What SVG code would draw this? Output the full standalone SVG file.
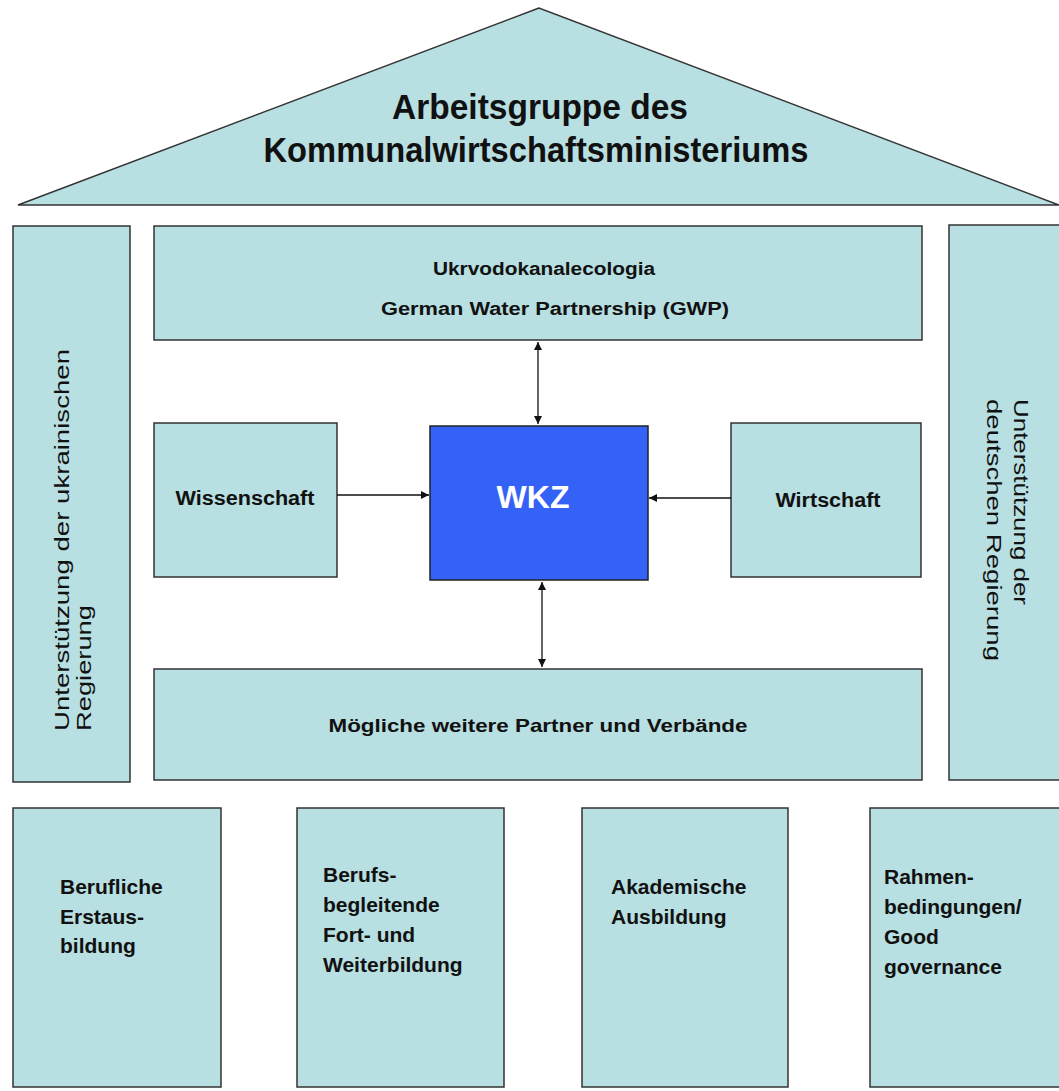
<svg xmlns="http://www.w3.org/2000/svg" width="1059" height="1091" viewBox="0 0 1059 1091">
<style>
.box{fill:#b8dfe1;stroke:#333;stroke-width:1.5}
.t{font-family:"Liberation Sans",Arial,sans-serif;font-weight:bold;fill:#111}
.r{font-family:"Liberation Sans",Arial,sans-serif;fill:#111;font-size:21px}
.c{stroke:#111;stroke-width:1.3;fill:none}
</style>
<defs>
<marker id="ah" viewBox="0 0 10 10" refX="10" refY="5" markerWidth="8" markerHeight="8" orient="auto-start-reverse" markerUnits="userSpaceOnUse">
<path d="M0,0 L10,5 L0,10 z" fill="#111"/>
</marker>
</defs>
<rect width="1059" height="1091" fill="#fff"/>
<g id="roof">
<polygon class="box" points="539,8 18,205 1059,205"/>
<text class="t" font-size="35" text-anchor="middle" x="540" y="119" textLength="296" lengthAdjust="spacingAndGlyphs">Arbeitsgruppe des</text>
<text class="t" font-size="35" text-anchor="middle" x="536" y="162" textLength="545" lengthAdjust="spacingAndGlyphs">Kommunalwirtschaftsministeriums</text>
</g>
<g id="pillar-left">
<rect class="box" x="13" y="226" width="117" height="556"/>
<text class="r" transform="translate(69,731) rotate(-90)" textLength="382" lengthAdjust="spacingAndGlyphs">Unterstützung der ukrainischen</text>
<text class="r" transform="translate(91,731) rotate(-90)" textLength="126" lengthAdjust="spacingAndGlyphs">Regierung</text>
</g>
<g id="pillar-right">
<rect class="box" x="949" y="225" width="114" height="555"/>
<text class="r" transform="translate(1014,399) rotate(90)" textLength="206" lengthAdjust="spacingAndGlyphs">Unterstützung der</text>
<text class="r" transform="translate(987,399) rotate(90)" textLength="262" lengthAdjust="spacingAndGlyphs">deutschen Regierung</text>
</g>
<g id="partners-top">
<rect class="box" x="154" y="226" width="768" height="114"/>
<text class="t" font-size="18" text-anchor="middle" x="544" y="275" textLength="222" lengthAdjust="spacingAndGlyphs">Ukrvodokanalecologia</text>
<text class="t" font-size="18" text-anchor="middle" x="555" y="315" textLength="348" lengthAdjust="spacingAndGlyphs">German Water Partnership (GWP)</text>
</g>
<g id="wissenschaft">
<rect class="box" x="154" y="423" width="183" height="154"/>
<text class="t" font-size="20" text-anchor="middle" x="245" y="505" textLength="139" lengthAdjust="spacingAndGlyphs">Wissenschaft</text>
</g>
<g id="wkz">
<rect x="430" y="426" width="218" height="154" fill="#3462f7" stroke="#222" stroke-width="1.5"/>
<text font-family="Liberation Sans,Arial,sans-serif" font-weight="bold" font-size="32" fill="#fff" text-anchor="middle" x="533" y="508">WKZ</text>
</g>
<g id="wirtschaft">
<rect class="box" x="731" y="423" width="190" height="154"/>
<text class="t" font-size="20" text-anchor="middle" x="828" y="507" textLength="105" lengthAdjust="spacingAndGlyphs">Wirtschaft</text>
</g>
<g id="partners-bottom">
<rect class="box" x="154" y="669" width="768" height="111"/>
<text class="t" font-size="19" text-anchor="middle" x="538" y="732" textLength="419" lengthAdjust="spacingAndGlyphs">Mögliche weitere Partner und Verbände</text>
</g>
<g id="base1">
<rect class="box" x="13" y="808" width="208" height="279"/>
<text class="t" font-size="21"><tspan x="60" y="894">Berufliche</tspan><tspan x="60" y="924">Erstaus-</tspan><tspan x="60" y="953">bildung</tspan></text>
</g>
<g id="base2">
<rect class="box" x="297" y="808" width="207" height="279"/>
<text class="t" font-size="21"><tspan x="323" y="882">Berufs-</tspan><tspan x="323" y="912">begleitende</tspan><tspan x="323" y="942">Fort- und</tspan><tspan x="323" y="972">Weiterbildung</tspan></text>
</g>
<g id="base3">
<rect class="box" x="582" y="808" width="206" height="279"/>
<text class="t" font-size="21"><tspan x="611" y="894">Akademische</tspan><tspan x="611" y="924">Ausbildung</tspan></text>
</g>
<g id="base4">
<rect class="box" x="870" y="808" width="193" height="279"/>
<text class="t" font-size="21"><tspan x="884" y="884">Rahmen-</tspan><tspan x="884" y="914">bedingungen/</tspan><tspan x="884" y="944">Good</tspan><tspan x="884" y="974">governance</tspan></text>
</g>
<g id="connectors">
<line class="c" x1="538" y1="342" x2="538" y2="424" marker-start="url(#ah)" marker-end="url(#ah)"/>
<line class="c" x1="542" y1="582" x2="542" y2="667" marker-start="url(#ah)" marker-end="url(#ah)"/>
<line class="c" x1="337" y1="495" x2="429" y2="495" marker-end="url(#ah)"/>
<line class="c" x1="731" y1="498" x2="649" y2="498" marker-end="url(#ah)"/>
</g>
</svg>
